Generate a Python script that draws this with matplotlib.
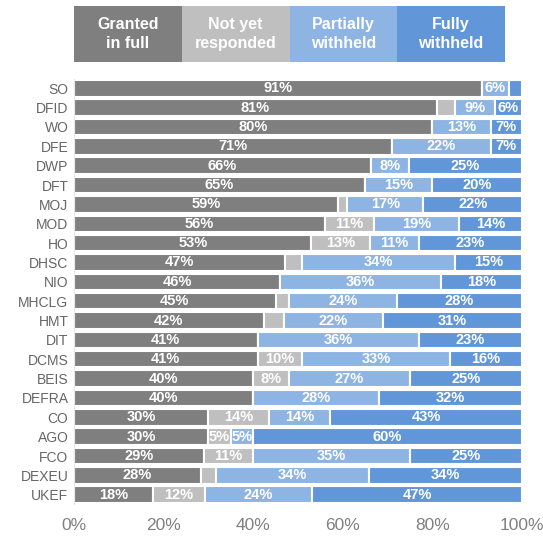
import matplotlib.pyplot as plt
import numpy as np

plt.rcParams['font.family'] = ['Liberation Sans', 'DejaVu Sans']

# Daten (Anteile in %)
departments = ['SO', 'DFID', 'WO', 'DFE', 'DWP', 'DFT', 'MOJ', 'MOD', 'HO', 'DHSC', 'NIO',
               'MHCLG', 'HMT', 'DIT', 'DCMS', 'BEIS', 'DEFRA', 'CO', 'AGO', 'FCO', 'DEXEU', 'UKEF']
granted = [91, 81, 80, 71, 66.3, 65, 59, 56, 53, 47, 46,
           45, 42.3, 41, 41, 40, 40, 30, 30, 29, 28.4, 17.6]
not_yet = [0, 4, 0, 0, 0, 0, 2, 11, 13, 4, 0,
           3, 4.5, 0, 10, 8, 0, 13.6, 5, 11, 3.2, 11.7]
partial = [6, 9, 13, 22, 8.4, 15, 17, 19, 11, 34, 36,
           24, 22.1, 36, 33, 27, 28, 13.6, 5, 35, 34.2, 23.8]
fully = [3, 6, 7, 7, 25.3, 20, 22, 14, 23, 15, 18,
         28, 31.1, 23, 16, 25, 32, 42.8, 60, 25, 34.2, 46.9]

series_names = ['Granted\nin full', 'Not yet\nresponded', 'Partially\nwithheld', 'Fully\nwithheld']
colors = ['#7f7f7f', '#bfbfbf', '#8db4e2', '#6197d8']
tick_labels = ['0%', '20%', '40%', '60%', '80%', '100%']

fig = plt.figure(figsize=(5.43, 5.36), dpi=100)
ax = fig.add_axes([74 / 543, 1 - 504.4 / 536, 448 / 543, (504.4 - 78.6) / 536])

y = np.arange(len(departments))
left = np.zeros(len(departments))
for vals, col in zip([granted, not_yet, partial, fully], colors):
    vals = np.array(vals, dtype=float)
    ax.barh(y, vals, left=left, height=0.85, color=col, edgecolor='white', linewidth=1.5)
    for yi, l, v in zip(y, left, vals):
        if v >= 4.8:
            ax.text(l + v / 2, yi, f"{v:.0f}%", ha='center', va='center',
                    color='white', fontsize=10.5, fontweight='bold')
    left += vals

ax.set_xlim(0, 100)
ax.set_ylim(len(departments) - 0.5, -0.5)
ax.set_yticks(y)
ax.set_yticklabels(departments, fontsize=10, color='#666666')
ax.set_xticks([0, 20, 40, 60, 80, 100])
ax.set_xticklabels(tick_labels, fontsize=12.5, color='#808080')
ax.tick_params(axis='both', length=0)
ax.tick_params(axis='x', pad=10)
ax.tick_params(axis='y', pad=4)
for s in ['top', 'right', 'bottom']:
    ax.spines[s].set_visible(False)
ax.spines['left'].set_color('#e6e6e6')

# Kopfzeile als Legende
hx = fig.add_axes([74 / 543, 1 - 62 / 536, 431 / 543, 56 / 536])
hx.bar(np.arange(4), 1, width=1, color=colors, linewidth=0)
for i, name in enumerate(series_names):
    hx.text(i, 0.5, name, ha='center', va='center', color='white',
            fontsize=11.5, fontweight='bold', linespacing=1.3)
hx.set_xlim(-0.5, 3.5)
hx.set_ylim(0, 1)
hx.axis('off')

plt.savefig('out.png', dpi=100)
